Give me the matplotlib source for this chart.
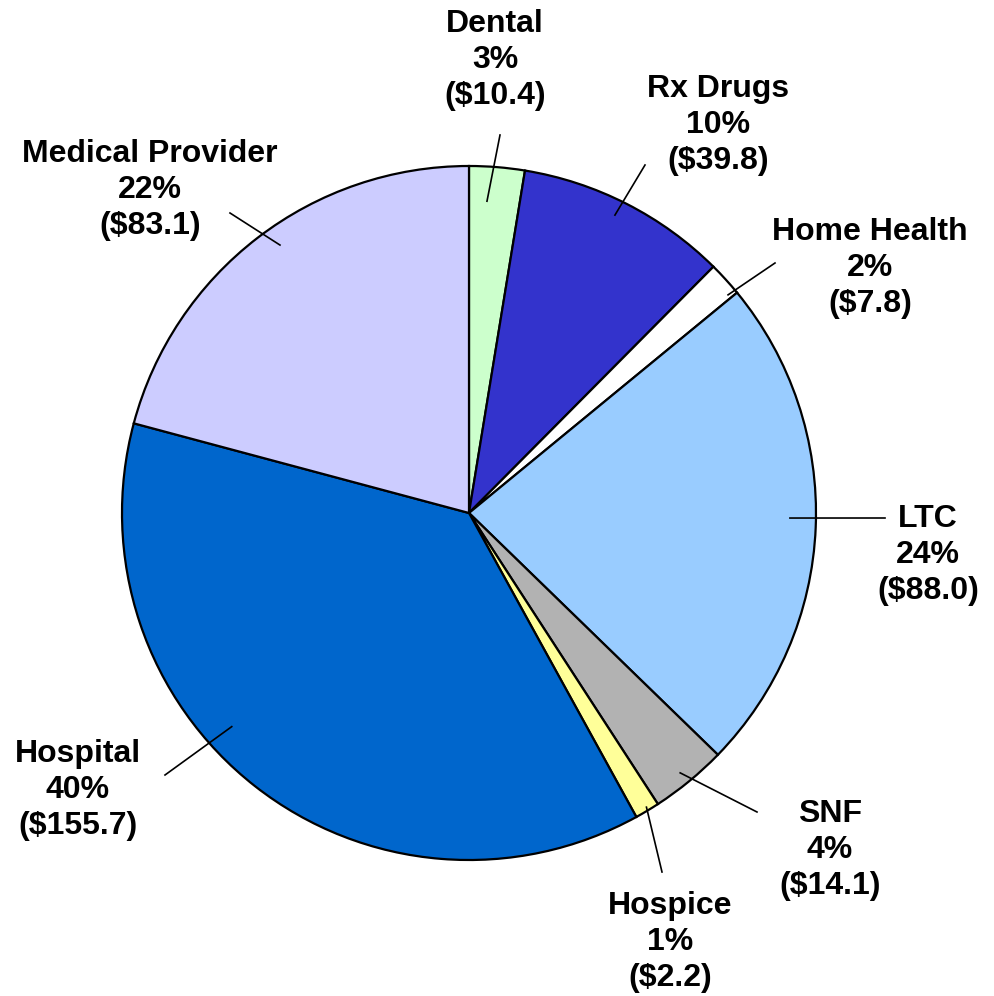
import numpy as np
import matplotlib.pyplot as plt

# spending categories, clockwise from 12 o'clock
categories = ['Dental', 'Rx Drugs', 'Home Health', 'LTC', 'SNF',
              'Hospice', 'Hospital', 'Medical Provider']
# wedge shares as drawn (percent of circle)
shares = [2.58, 9.86, 1.61, 23.22, 3.57, 1.15, 37.17, 20.84]
# printed labels
pct_labels = [3, 10, 2, 24, 4, 1, 40, 22]
dollars = [10.4, 39.8, 7.8, 88.0, 14.1, 2.2, 155.7, 83.1]

colors = ['#CCFFCC', '#3333CC', '#FFFFFF', '#99CCFF', '#B2B2B2',
          '#FFFF99', '#0066CC', '#CCCCFF']

# label layout in pixels (text centre, leader outer end), leader inner anchor (deg, radius)
text_px = [(495, 60), (718, 125), (870, 268), (928, 555), (830, 850),
           (670, 942), (78, 790), (150, 190)]
lead_out_px = [(500, 135), (645, 165), (775, 263), (885, 518), (757, 812),
               (662, 872), (165, 775), (230, 213)]
lead_in = [(86.7, 0.90), (63.9, 0.956), (40.1, 0.976), (-0.9, 0.925),
           (-50.9, 0.965), (-58.9, 0.99), (-138.0, 0.92), (125.2, 0.945)]

W, H = 995, 996
cx, cy, R = 469, 513, 347   # pie centre and radius in pixels


def px(p):
    return ((p[0] - cx) / R, (cy - p[1]) / R)


fig = plt.figure(figsize=(W / 100, H / 100), dpi=100)
ax = fig.add_axes([0, 0, 1, 1])
ax.axis('off')

ax.pie(shares, colors=colors, startangle=90, counterclock=False, radius=1,
       wedgeprops=dict(edgecolor='black', linewidth=1.6))
ax.set_xlim(-cx / R, (W - cx) / R)
ax.set_ylim(-(H - cy) / R, cy / R)
ax.set_aspect('equal')

for i, name in enumerate(categories):
    ang, r = lead_in[i]
    x0, y0 = r * np.cos(np.radians(ang)), r * np.sin(np.radians(ang))
    x1, y1 = px(lead_out_px[i])
    ax.plot([x0, x1], [y0, y1], color='black', linewidth=1.2)
    tx, ty = px(text_px[i])
    ax.text(tx, ty, '%s\n%d%%\n($%.1f)' % (name, pct_labels[i], dollars[i]),
            ha='center', va='center', fontsize=23, fontweight='bold',
            family='Liberation Sans', linespacing=1.28)

fig.savefig('out.png', dpi=100)
